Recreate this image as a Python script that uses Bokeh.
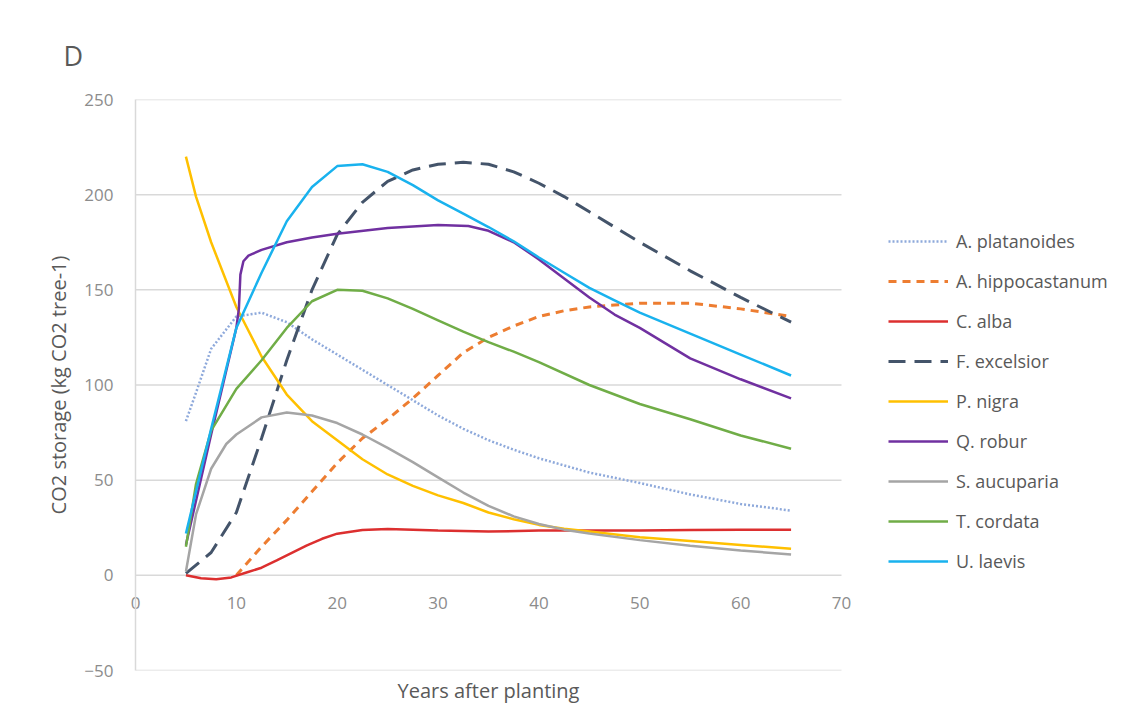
from bokeh.plotting import figure
from bokeh.models import (Legend, LegendItem, FixedTicker, Range1d, ColumnDataSource, Title)
from bokeh.embed import file_html
from bokeh.resources import INLINE

FONT = "Open Sans"

# ---------------- data ----------------
x_ticks = [0, 10, 20, 30, 40, 50, 60, 70]
y_ticks = [-50, 0, 50, 100, 150, 200, 250]

names = ["A. platanoides", "A. hippocastanum", "C. alba", "F. excelsior",
         "P. nigra", "Q. robur", "S. aucuparia", "T. cordata", "U. laevis"]

ap_x = [5, 6, 7.5, 10, 12.5, 15, 17.5, 20, 22.5, 25, 27.5, 30, 32.5, 35, 37.5, 40, 45, 50, 55, 60, 65]
ap_y = [81, 96, 119, 136, 138, 133, 124, 116, 108, 100, 92, 84, 77, 71, 66, 61.5, 54, 48.5, 42.5, 37.5, 34]

ah_x = [10, 12.5, 15, 17.5, 20, 22.5, 25, 27.5, 30, 32.5, 35, 37.5, 40, 42.5, 45, 47.5, 50, 55, 60, 65]
ah_y = [0, 15, 29, 44, 59, 72, 82, 93, 105, 117, 125, 131, 136, 139, 141, 142, 143, 143, 140, 136]

ca_x = [5, 6.5, 8, 9.5, 11, 12.5, 14, 15.5, 17, 18.5, 20, 22.5, 25, 30, 35, 40, 45, 50, 55, 60, 65]
ca_y = [0, -1.5, -2, -1.1, 1.5, 4, 7.8, 11.8, 15.7, 19.2, 21.9, 23.8, 24.3, 23.5, 23, 23.5, 23.5, 23.5, 23.8, 24, 24]

fe_x = [5, 7.5, 10, 12.5, 15, 17.5, 20, 22.5, 25, 27.5, 30, 32.5, 35, 37.5, 40, 42.5, 45, 47.5, 50, 55, 60, 65]
fe_y = [1, 12, 33, 72, 113, 150, 179, 196, 207, 213, 216, 217, 216, 212, 206, 199, 191, 183, 175, 160, 146, 133]

pn_x = [5, 6, 7.5, 10, 12.5, 15, 17.5, 20, 22.5, 25, 27.5, 30, 32.5, 35, 37.5, 40, 42.5, 45, 50, 55, 60, 65]
pn_y = [220, 199, 175, 141, 115, 95, 81, 71, 61, 53, 47, 42, 38, 33, 29.5, 26.5, 24.5, 23, 20, 18, 16, 14]

qr_x = [5, 7.5, 10, 10.25, 10.4, 10.7, 11.2, 12.5, 15, 17.5, 20, 25, 30, 33, 35, 37.5, 40, 42.5, 45, 47.5, 50, 55, 60, 65]
qr_y = [16, 74, 130, 140, 158, 165, 168, 171, 175, 177.5, 179.5, 182.5, 184, 183.5, 181, 175, 166, 156, 146, 137, 130, 114, 103, 93]

sa_x = [5, 6, 7.5, 9, 10, 12.5, 15, 17.5, 20, 22.5, 25, 27.5, 30, 32.5, 35, 37.5, 40, 42.5, 45, 50, 55, 60, 65]
sa_y = [2, 32, 56, 69, 74, 83, 85.5, 84, 80, 74, 67, 59.5, 51.5, 43.5, 36.5, 31, 27, 24, 22, 18.5, 15.5, 13, 11]

tc_x = [5, 6, 7.5, 10, 12.5, 15, 17.5, 20, 22.5, 25, 27.5, 30, 32.5, 35, 37.5, 40, 45, 50, 55, 60, 65]
tc_y = [15, 48, 76, 98, 113, 130, 144, 150, 149.5, 145.5, 140, 134, 128, 122.5, 117.5, 112, 100, 90, 82, 73.5, 66.5]

ul_x = [5, 7.5, 10, 12.5, 15, 17.5, 20, 22.5, 25, 27.5, 30, 32.5, 35, 37.5, 40, 42.5, 45, 47.5, 50, 55, 60, 65]
ul_y = [22, 77, 130, 159, 186, 204, 215, 216, 212, 205, 197, 190, 183, 175.5, 167, 159, 151, 144.5, 138, 127, 116, 105]

series_x = [ap_x, ah_x, ca_x, fe_x, pn_x, qr_x, sa_x, tc_x, ul_x]
series_y = [ap_y, ah_y, ca_y, fe_y, pn_y, qr_y, sa_y, tc_y, ul_y]

colors = ["#8EA9DB", "#ED7D31", "#DC2F2F", "#44546A", "#FFC000",
          "#7030A0", "#A5A5A5", "#70AD47", "#19B2EE"]
dashes = ["2 2", "8 6", "solid", "17 9", "solid", "solid", "solid", "solid", "solid"]
widths = [2.5, 3, 2.5, 3, 2.5, 2.5, 2.5, 2.5, 2.5]

# ---------------- layout (pixels) ----------------
W, H = 1125, 720
LEFT, RIGHT, TOP, BOTTOM = 135, 10, 99, 50
AXIS_SPAN_PX = 706          # pixel length of the 0..70 axis
frame_w = W - LEFT - RIGHT
x_end = x_ticks[-1] * frame_w / AXIS_SPAN_PX   # frame extends right to hold the legend

p = figure(width=W, height=H,
           x_range=Range1d(x_ticks[0], x_end), y_range=Range1d(y_ticks[0], y_ticks[-1]),
           output_backend="svg", toolbar_location=None,
           min_border_left=LEFT, min_border_right=RIGHT,
           min_border_top=TOP, min_border_bottom=BOTTOM)
p.outline_line_color = None
p.background_fill_color = "white"
p.border_fill_color = "white"

# panel letter
p.title.text = "D"
p.title.text_font = FONT
p.title.text_font_size = "27px"
p.title.text_font_style = "normal"
p.title.text_color = "#595959"
p.title.align = "left"
p.title.offset = -72
p.title.standoff = 51

# horizontal gridlines limited to the 0..70 span of the x axis
p.xgrid.visible = False
p.ygrid.visible = False
p.segment(x0=[x_ticks[0]] * len(y_ticks), x1=[x_ticks[-1]] * len(y_ticks),
          y0=y_ticks, y1=y_ticks, line_color="#D9D9D9", line_width=1.5)

# y axis
ya = p.yaxis[0]
ya.ticker = FixedTicker(ticks=y_ticks)
ya.axis_line_color = "#D9D9D9"
ya.axis_line_width = 1.5
ya.major_tick_line_color = None
ya.minor_tick_line_color = None
ya.major_label_text_font = FONT
ya.major_label_text_font_size = "17px"
ya.major_label_text_color = "#8C8C8C"
ya.major_label_standoff = 16
ya.axis_label = "CO2 storage (kg CO2 tree-1)"
ya.axis_label_text_font = FONT
ya.axis_label_text_font_size = "20px"
ya.axis_label_text_font_style = "normal"
ya.axis_label_text_color = "#595959"
ya.axis_label_standoff = 9

# x axis title, placed under the middle of the 0..70 span
xt = Title(text="Years after planting", text_font=FONT, text_font_size="20px",
           text_font_style="normal", text_color="#595959", align="left",
           offset=262, standoff=8)
p.add_layout(xt, "below")

# x axis: tick labels sit just under the y = 0 line (Excel style crossing)
xa = p.xaxis[0]
xa.ticker = FixedTicker(ticks=x_ticks)
xa.axis_line_color = None
xa.major_tick_line_color = None
xa.minor_tick_line_color = None
xa.major_label_text_font = FONT
xa.major_label_text_font_size = "17px"
xa.major_label_text_color = "#8C8C8C"
xa.major_label_standoff = -117

# title nearest to the frame, tick-label axis after it
p.below = [xt, xa]

# lines
items = []
for nm, xs, ys, c, d, w in zip(names, series_x, series_y, colors, dashes, widths):
    src = ColumnDataSource(dict(x=xs, y=ys))
    r = p.line("x", "y", source=src, line_color=c, line_width=w, line_dash=d,
               line_cap="butt")
    items.append(LegendItem(label=nm, renderers=[r]))

legend = Legend(items=items, location=(753, 96),
                label_text_font=FONT, label_text_font_size="18px",
                label_text_color="#595959",
                glyph_width=60, glyph_height=26, label_height=26,
                spacing=14, padding=0, margin=0, label_standoff=8,
                border_line_color=None, background_fill_alpha=0)
p.add_layout(legend, "center")

open("out.html", "w").write(file_html(p, INLINE))
